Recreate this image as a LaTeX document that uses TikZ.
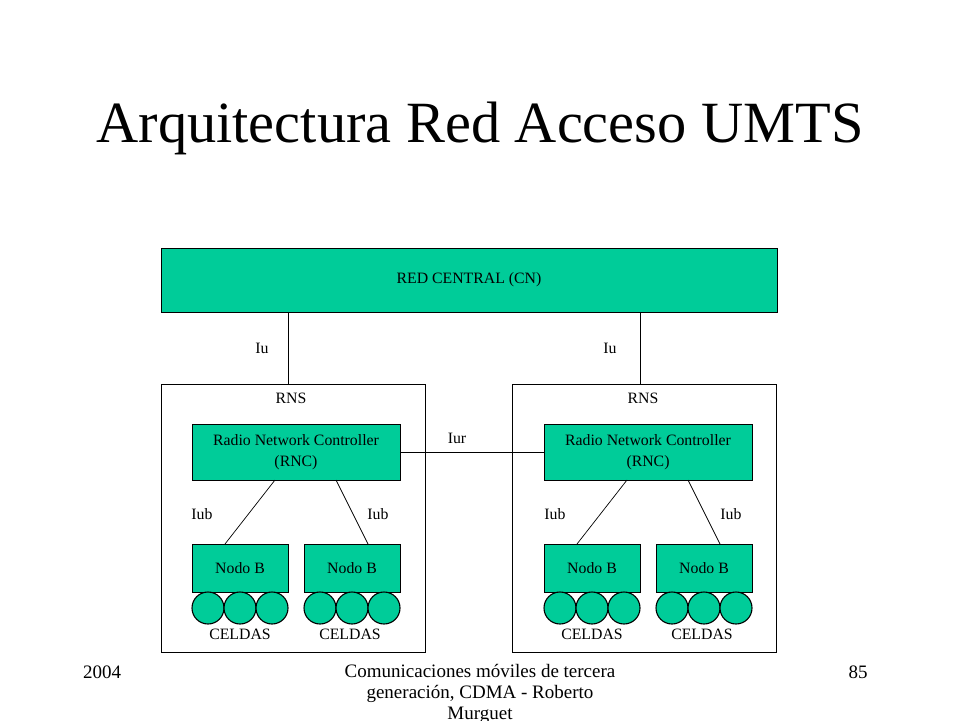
\documentclass[tikz,border=0pt]{standalone}
\usepackage{fontspec}
\setmainfont{Liberation Serif}
\definecolor{umts}{HTML}{00CC99}
\tikzset{
  box/.style={draw=black, line width=1.4pt, fill=umts, inner sep=0pt, anchor=north west},
  frame/.style={draw=black, line width=1.4pt, fill=white, anchor=north west, inner sep=0pt},
  cell/.style={circle, draw=black, line width=1.1pt, fill=umts, minimum size=32pt, inner sep=0pt},
  lbl/.style={font=\fontsize{15.8}{18}\selectfont, inner sep=0pt},
  link/.style={draw=black, line width=1pt},
  thin/.style={draw=black, line width=0.7pt}
}
\begin{document}
\begin{tikzpicture}[x=1pt,y=-1pt]
\useasboundingbox (0,0) rectangle (960,720);
\node[font=\fontsize{58.4}{64}\selectfont, inner sep=0pt] (title) at (480,128) {Arquitectura Red Acceso UMTS};

% core network
\node[box, minimum width=616pt, minimum height=64pt] (cn) at (161,248) {};
\node[lbl] (cnt) at (469,280) {RED CENTRAL (CN)};

% RNS frames
\node[frame, minimum width=264pt, minimum height=268pt] (rnsL) at (161,384) {};
\node[frame, minimum width=264pt, minimum height=268pt] (rnsR) at (512,384) {};
\node[lbl] (rnsLt) at (291,398) {RNS};
\node[lbl] (rnsRt) at (643,398) {RNS};

% Iu links
\coordinate (iuLa) at (288,312);
\coordinate (iuLb) at (288,384);
\coordinate (iuRa) at (640,312);
\coordinate (iuRb) at (640,384);
\draw[link] (iuLa) -- (iuLb);
\draw[link] (iuRa) -- (iuRb);
\node[lbl] (iuL) at (262,348) {Iu};
\node[lbl] (iuR) at (610,348) {Iu};

% RNCs
\node[box, minimum width=208pt, minimum height=56pt] (rncL) at (192,424) {};
\node[box, minimum width=208pt, minimum height=56pt] (rncR) at (544,424) {};
\node[lbl, align=center, font=\fontsize{15.8}{21}\selectfont] (rncLt) at (296,452) {Radio Network Controller\\(RNC)};
\node[lbl, align=center, font=\fontsize{15.8}{21}\selectfont] (rncRt) at (648,452) {Radio Network Controller\\(RNC)};

% Iur
\draw[link] (rncL.east) -- (rncR.west);
\node[lbl] (iur) at (457,438) {Iur};

% Node Bs
\node[box, minimum width=96pt, minimum height=48pt] (nb1) at (192,544) {};
\node[box, minimum width=96pt, minimum height=48pt] (nb2) at (304,544) {};
\node[box, minimum width=96pt, minimum height=48pt] (nb3) at (544,544) {};
\node[box, minimum width=96pt, minimum height=48pt] (nb4) at (656,544) {};
\node[lbl] (nb1t) at (240,568) {Nodo B};
\node[lbl] (nb2t) at (352,568) {Nodo B};
\node[lbl] (nb3t) at (592,568) {Nodo B};
\node[lbl] (nb4t) at (704,568) {Nodo B};

% Iub links
\coordinate (r1) at (275,480); \coordinate (b1) at (225,544);
\coordinate (r2) at (336,480); \coordinate (b2) at (368,544);
\coordinate (r3) at (627,480); \coordinate (b3) at (577,544);
\coordinate (r4) at (688,480); \coordinate (b4) at (720,544);
\draw[thin] (r1) -- (b1);
\draw[thin] (r2) -- (b2);
\draw[thin] (r3) -- (b3);
\draw[thin] (r4) -- (b4);
\node[lbl] (iub1) at (202,514) {Iub};
\node[lbl] (iub2) at (378,514) {Iub};
\node[lbl] (iub3) at (555,514) {Iub};
\node[lbl] (iub4) at (731,514) {Iub};

% cells
\foreach \cx/\n in {208/a1,240/a2,272/a3,320/b1,352/b2,384/b3,560/c1,592/c2,624/c3,672/d1,704/d2,736/d3}
  \node[cell] (cell\n) at (\cx,608) {};
\node[lbl] (cel1) at (240,634) {CELDAS};
\node[lbl] (cel2) at (350,634) {CELDAS};
\node[lbl] (cel3) at (592,634) {CELDAS};
\node[lbl] (cel4) at (702,634) {CELDAS};

% footer
\node[font=\fontsize{19}{21}\selectfont, inner sep=0pt] (year) at (102,672) {2004};
\node[font=\fontsize{19}{21}\selectfont, inner sep=0pt] (page) at (858,672) {85};
\node[font=\fontsize{19}{21}\selectfont, inner sep=0pt, align=center, anchor=north] (foot) at (480,664) {Comunicaciones móviles de tercera\\generación, CDMA - Roberto\\Murguet};
\end{tikzpicture}
\end{document}
